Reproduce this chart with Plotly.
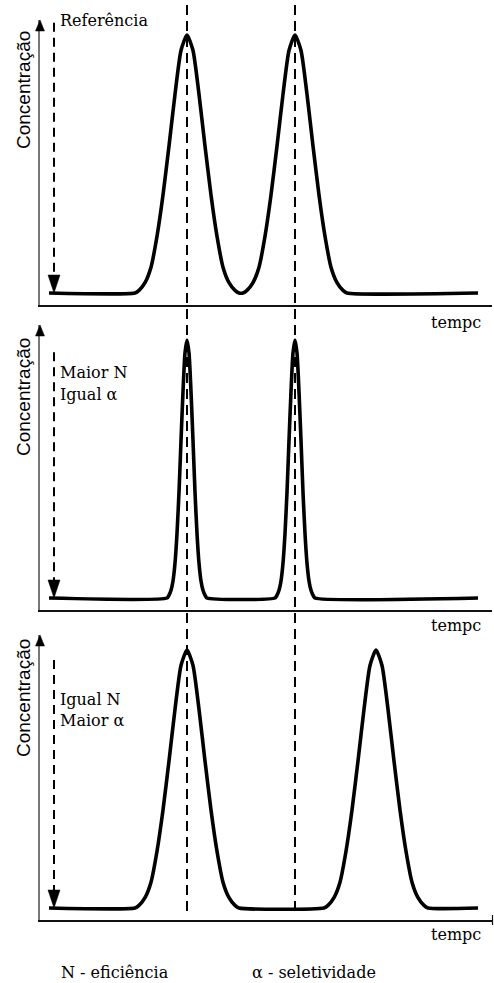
import plotly.graph_objects as go

# ---------------- data ----------------
# time (arbitrary units) and relative concentration, panel 1: "Referência"
ref_t = [0.9, 9.5, 9.9, 10.5, 11.1, 11.7, 12.3, 12.9, 13.5, 14.1, 14.7, 15.3, 15.9, 16.5,
         17.1, 17.7, 18.3, 18.9, 19.5, 19.9, 20.3, 20.7, 21.3, 21.9, 22.5, 23.1, 23.7,
         24.3, 24.9, 25.5, 26.1, 26.7, 27.3, 27.9, 28.5, 29.1, 29.7, 30.3, 30.7, 43.8]
ref_c = [0, 0, 0.01, 0.04, 0.10, 0.22, 0.38, 0.57, 0.77, 0.94, 1.00, 0.94, 0.77, 0.57,
         0.38, 0.22, 0.10, 0.04, 0.01, 0, 0, 0.01, 0.04, 0.10, 0.22, 0.38, 0.57,
         0.77, 0.94, 1.00, 0.94, 0.77, 0.57, 0.38, 0.22, 0.10, 0.04, 0.01, 0, 0]

# panel 2: "Maior N / Igual α"
maiorN_t = [0.9, 12.7, 12.9, 13.1, 13.3, 13.5, 13.7, 13.9, 14.1, 14.3, 14.5, 14.7, 14.9,
            15.1, 15.3, 15.5, 15.7, 15.9, 16.1, 16.3, 16.5, 16.7,
            23.5, 23.7, 23.9, 24.1, 24.3, 24.5, 24.7, 24.9, 25.1, 25.3, 25.5, 25.7,
            25.9, 26.1, 26.3, 26.5, 26.7, 26.9, 27.1, 27.3, 27.5, 43.8]
maiorN_c = [0, 0, 0.011, 0.03, 0.066, 0.135, 0.25, 0.41, 0.61, 0.80, 0.95, 1.00, 0.95,
            0.80, 0.61, 0.41, 0.25, 0.135, 0.066, 0.03, 0.011, 0,
            0, 0.011, 0.03, 0.066, 0.135, 0.25, 0.41, 0.61, 0.80, 0.95, 1.00, 0.95,
            0.80, 0.61, 0.41, 0.25, 0.135, 0.066, 0.03, 0.011, 0, 0]

# panel 3: "Igual N / Maior α"
maiorA_t = [0.9, 9.5, 9.9, 10.5, 11.1, 11.7, 12.3, 12.9, 13.5, 14.1, 14.7, 15.3, 15.9, 16.5,
            17.1, 17.7, 18.3, 18.9, 19.5, 19.9, 28.4, 28.8, 29.4, 30.0, 30.6, 31.2, 31.8,
            32.4, 33.0, 33.6, 34.2, 34.8, 35.4, 36.0, 36.6, 37.2, 37.8, 38.4, 38.8, 43.8]
maiorA_c = [0, 0, 0.01, 0.04, 0.10, 0.22, 0.38, 0.57, 0.77, 0.94, 1.00, 0.94, 0.77, 0.57,
            0.38, 0.22, 0.10, 0.04, 0.01, 0, 0, 0.01, 0.04, 0.10, 0.22, 0.38, 0.57,
            0.77, 0.94, 1.00, 0.94, 0.77, 0.57, 0.38, 0.22, 0.10, 0.04, 0.01, 0, 0]

# retention times of the reference peaks (vertical dashed guides)
guide_t = [14.7, 25.5]
ref_marker_t = 1.4          # time of the dashed "reference" arrow

panel_labels = [["Referência"], ["Maior N", "Igual α"], ["Igual N", "Maior α"]]
y_title = "Concentração"
x_title = "tempc"
footer = ["N - eficiência", "α - seletividade"]

# ---------------- layout helpers ----------------
W, H = 494, 983
def px(x):
    return x / W
def py(y):
    return 1 - y / H

SERIF = "DejaVu Serif"
SANS = "Liberation Sans, Arial"

fig = go.Figure()

series = [(ref_t, ref_c), (maiorN_t, maiorN_c), (maiorA_t, maiorA_c)]
# pixel rows: (axis line, baseline, top arrow tip)
rows = [(305, 293, 20), (610, 598, 325), (920, 908, 635)]
scale = 258.0
ymin = -12 / scale
ymax = 273 / scale

for i, (t, c) in enumerate(series):
    s = "" if i == 0 else str(i + 1)
    fig.add_trace(go.Scatter(
        x=t, y=c, mode="lines", xaxis="x" + s, yaxis="y" + s,
        line=dict(color="black", width=3.6, shape="spline", smoothing=0.6),
        hoverinfo="skip", showlegend=False))
    bottom, base, top = rows[i]
    fig.update_layout(**{
        "xaxis" + s: dict(domain=[px(40), px(492)], range=[0, 45.2], anchor="y" + s,
                          showline=True, linecolor="#111", linewidth=1.5, fixedrange=True,
                          showticklabels=False, ticks="", showgrid=False, zeroline=False),
        "yaxis" + s: dict(domain=[py(bottom), py(top)], range=[ymin, ymax], anchor="x" + s,
                          showline=True, linecolor="#777", linewidth=1.6, fixedrange=True,
                          showticklabels=False, ticks="", showgrid=False, zeroline=False),
    })
    xr, yr = "x" + s, "y" + s
    # dashed reference arrow
    top_dash = [1.047, 0.953, 0.961][i]
    fig.add_shape(type="line", xref=xr, yref=yr, x0=ref_marker_t, x1=ref_marker_t,
                  y0=top_dash, y1=16 / scale,
                  line=dict(color="black", width=2, dash="9px,6px"))
    fig.add_shape(type="path", xref=xr, yref=yr, xsizemode="pixel", ysizemode="pixel",
                  xanchor=ref_marker_t, yanchor=0, path="M-6,18 L6,18 L0,0 Z",
                  fillcolor="black", line=dict(color="black", width=0.5))
    # arrowhead on the concentration axis
    fig.add_shape(type="path", xref="paper", yref=yr, xsizemode="pixel", ysizemode="pixel",
                  xanchor=px(40), yanchor=ymax, path="M-4.5,-11 L4.5,-11 L0,0 Z",
                  fillcolor="black", line=dict(color="black", width=0.5))
    # y title
    fig.add_annotation(text=y_title, x=px(23), y=py([90, 397, 698][i]), xref="paper",
                       yref="paper", textangle=-90, showarrow=False,
                       xanchor="center", yanchor="middle",
                       font=dict(family=SANS, size=19, color="black"))
    # x title
    fig.add_annotation(text=x_title, x=px(483), y=py([322, 625, 934][i]), xref="paper",
                       yref="paper", xanchor="right", yanchor="middle", showarrow=False,
                       font=dict(family=SERIF, size=16, color="black"))

# panel labels
label_pos = [[21], [373, 395], [699, 720]]
for i, labels in enumerate(panel_labels):
    for lab, yy in zip(labels, label_pos[i]):
        fig.add_annotation(text=lab, x=px(58), y=py(yy), xref="paper", yref="paper",
                           xanchor="left", yanchor="middle", showarrow=False,
                           font=dict(family=SERIF, size=16, color="black"))

# long vertical guides through all panels
for g in guide_t:
    fig.add_shape(type="line", xref="x", yref="paper", x0=g, x1=g, y0=py(5), y1=py(912),
                  line=dict(color="black", width=2, dash="10px,6px"))

# small end tick on the last time axis
fig.add_shape(type="line", xref="paper", yref="paper", x0=px(492.5), x1=px(492.5),
              y0=py(915), y1=py(925), line=dict(color="#111", width=1.2))

# footer
fig.add_annotation(text=footer[0], x=px(59), y=py(972), xref="paper", yref="paper",
                   xanchor="left", yanchor="middle", showarrow=False,
                   font=dict(family=SERIF, size=16, color="black"))
fig.add_annotation(text=footer[1], x=px(250), y=py(972), xref="paper", yref="paper",
                   xanchor="left", yanchor="middle", showarrow=False,
                   font=dict(family=SERIF, size=16, color="black"))

fig.update_layout(width=W, height=H, margin=dict(l=0, r=0, t=0, b=0),
                  paper_bgcolor="white", plot_bgcolor="white", showlegend=False,
                  hovermode=False)

fig.write_html("out.html", config={"displayModeBar": False},
               post_script="document.body.style.margin='0';document.body.style.overflow='hidden';")
